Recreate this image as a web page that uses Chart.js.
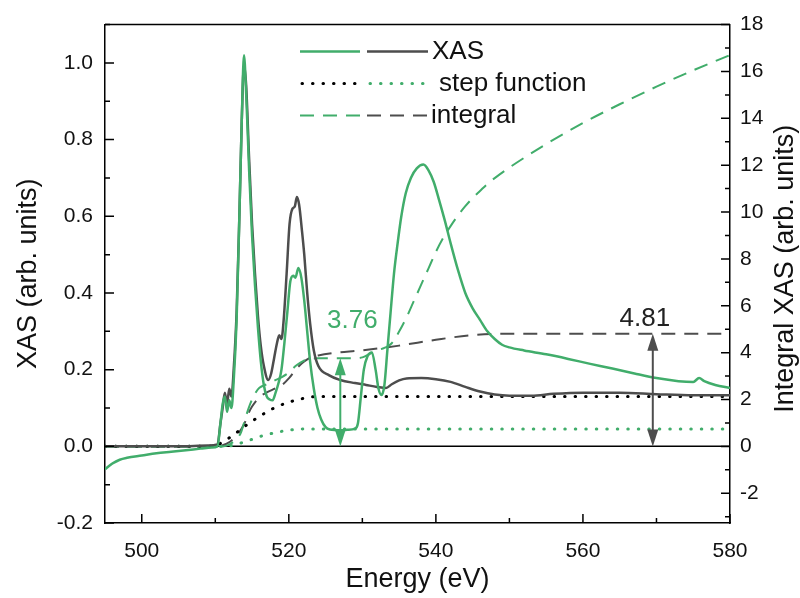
<!DOCTYPE html>
<html>
<head>
<meta charset="utf-8">
<script src="https://cdn.jsdelivr.net/npm/chart.js@4.4.1/dist/chart.umd.min.js"></script>
<style>
  html, body { margin: 0; padding: 0; background: #fff; }
</style>
</head>
<body>
<canvas id="xasChart" width="800" height="598"></canvas>
<script>
// ---- data ----
const greenE = [495, 496, 497, 498, 500, 502, 504, 506, 508, 509.5, 510.3, 510.7, 511.0, 511.3, 511.6, 511.9, 512.2, 512.5, 512.9, 513.3, 513.6, 513.9, 514.2, 514.6, 515.0, 515.4, 515.8, 516.2, 516.6, 517.0, 517.4, 517.8, 518.2, 518.6, 519.0, 519.4, 519.8, 520.2, 520.6, 520.9, 521.3, 521.7, 522.1, 522.5, 522.9, 523.4, 523.9, 524.4, 525.0, 525.6, 527, 528, 529, 529.4, 529.8, 530.2, 530.7, 531.3, 531.8, 532.2, 532.6, 533.0, 533.4, 533.8, 534.3, 534.8, 535.3, 535.9, 536.6, 537.4, 538.3, 539.0, 539.7, 540.4, 541.2, 542.0, 543.0, 544.0, 545.0, 546.0, 547.0, 548.0, 549.0, 550, 552, 555, 558, 561, 564, 567, 570, 573, 575, 575.8, 576.5, 578, 580];
const greenXas = [-0.06, -0.045, -0.035, -0.03, -0.024, -0.018, -0.014, -0.01, -0.006, -0.003, 0.0, 0.06, 0.11, 0.13, 0.09, 0.12, 0.10, 0.17, 0.33, 0.62, 0.85, 1.02, 0.92, 0.72, 0.55, 0.42, 0.31, 0.22, 0.16, 0.13, 0.122, 0.12, 0.14, 0.165, 0.2, 0.27, 0.35, 0.43, 0.445, 0.44, 0.465, 0.44, 0.38, 0.3, 0.22, 0.15, 0.1, 0.07, 0.05, 0.044, 0.042, 0.043, 0.046, 0.06, 0.13, 0.2, 0.235, 0.245, 0.2, 0.15, 0.134, 0.16, 0.25, 0.34, 0.45, 0.53, 0.6, 0.66, 0.7, 0.725, 0.735, 0.72, 0.69, 0.645, 0.59, 0.53, 0.46, 0.40, 0.36, 0.33, 0.3, 0.28, 0.265, 0.258, 0.25, 0.24, 0.228, 0.215, 0.203, 0.19, 0.178, 0.17, 0.168, 0.178, 0.17, 0.16, 0.152];

const grayE = [495, 505, 509, 510.3, 510.7, 511.0, 511.3, 511.6, 511.9, 512.2, 512.5, 512.9, 513.3, 513.6, 513.9, 514.2, 514.6, 515.0, 515.4, 515.8, 516.2, 516.6, 517.2, 517.6, 518.0, 518.4, 518.7, 519.0, 519.3, 519.7, 520.1, 520.5, 520.8, 521.1, 521.4, 521.8, 522.1, 522.5, 522.9, 523.4, 524.0, 525.5, 527, 529, 530.5, 532, 533.2, 534, 535, 536, 538, 540, 542, 544, 546, 548, 550, 553, 556, 560, 565, 570, 575, 580];
const grayXas = [0, 0, 0.002, 0.005, 0.06, 0.1, 0.14, 0.11, 0.15, 0.13, 0.2, 0.35, 0.62, 0.85, 0.995, 0.94, 0.75, 0.58, 0.45, 0.34, 0.26, 0.21, 0.173, 0.19, 0.23, 0.27, 0.29, 0.28, 0.33, 0.45, 0.58, 0.62, 0.625, 0.65, 0.63, 0.56, 0.5, 0.4, 0.32, 0.25, 0.21, 0.185, 0.173, 0.165, 0.16, 0.155, 0.152, 0.162, 0.172, 0.177, 0.178, 0.175, 0.168, 0.155, 0.143, 0.135, 0.132, 0.132, 0.137, 0.14, 0.14, 0.136, 0.133, 0.133];

const stepBlackE = [495, 509.5, 510.5, 511.5, 512.5, 514, 516, 518, 520, 522, 524, 580];
const stepBlack = [0, 0, 0.006, 0.017, 0.03, 0.052, 0.078, 0.1, 0.115, 0.125, 0.13, 0.13];

const stepGreenE = [495, 511.5, 513, 514.5, 516, 518, 520, 522, 580];
const stepGreen = [0, 0, 0.006, 0.015, 0.025, 0.035, 0.042, 0.045, 0.045];

const intGreenE = [495, 511, 512, 513, 513.5, 514, 514.5, 515, 515.5, 516, 517, 518, 519, 520, 521, 522, 523, 524, 529, 530, 531, 532, 533, 534, 535, 536, 537, 538, 539, 540, 541, 542, 543, 544, 545, 546, 547, 548, 550, 555, 560, 565, 570, 575, 580];
const intGreen = [0, 0, 0.1, 0.35, 0.6, 1.1, 1.6, 2.0, 2.3, 2.5, 2.65, 2.8, 2.95, 3.15, 3.45, 3.65, 3.74, 3.76, 3.76, 3.8, 3.95, 4.1, 4.2, 4.4, 4.9, 5.5, 6.2, 6.9, 7.6, 8.3, 8.9, 9.4, 9.85, 10.25, 10.6, 10.9, 11.2, 11.45, 11.9, 12.9, 13.8, 14.6, 15.35, 16.05, 16.7];

const intGrayE = [495, 510, 511, 512, 513, 514, 514.5, 515, 516, 517, 518, 519, 520, 521, 522, 523, 524, 526, 530, 535, 540, 545, 550, 580];
const intGray = [0, 0, 0.05, 0.2, 0.5, 1.0, 1.4, 1.7, 2.1, 2.3, 2.45, 2.6, 2.9, 3.3, 3.6, 3.8, 3.88, 3.98, 4.1, 4.3, 4.55, 4.75, 4.81, 4.81];

const xTicks = [500, 520, 540, 560, 580];
const xMinor = [510, 530, 550, 570];
const yTicks = [-0.2, 0.0, 0.2, 0.4, 0.6, 0.8, 1.0];
const yMinor = [-0.1, 0.1, 0.3, 0.5, 0.7, 0.9, 1.1];
const y2Ticks = [-2, 0, 2, 4, 6, 8, 10, 12, 14, 16, 18];
const y2Minor = [-3, -1, 1, 3, 5, 7, 9, 11, 13, 15, 17];

// annotations: energy, value on the integral axis, label
const greenMark = { e: 527, value: 3.76, label: '3.76' };
const grayMark = { e: 569.5, value: 4.81, label: '4.81' };

const GREEN = '#41ad6b';
const GRAY = '#4d4d4d';
const FONT = '"Liberation Sans", Arial, sans-serif';

const pts = (xs, ys) => xs.map((x, i) => ({ x: x, y: ys[i] }));

function drawArrow(ctx, x, y0, y1, color) {
    const head = 17, half = 5.5;
    ctx.save();
    ctx.strokeStyle = color;
    ctx.fillStyle = color;
    ctx.lineWidth = 2;
    ctx.beginPath();
    ctx.moveTo(x, y0 - head + 2);
    ctx.lineTo(x, y1 + head - 2);
    ctx.stroke();
    ctx.beginPath();
    ctx.moveTo(x, y0); ctx.lineTo(x - half, y0 - head); ctx.lineTo(x + half, y0 - head); ctx.closePath();
    ctx.fill();
    ctx.beginPath();
    ctx.moveTo(x, y1); ctx.lineTo(x - half, y1 + head); ctx.lineTo(x + half, y1 + head); ctx.closePath();
    ctx.fill();
    ctx.restore();
}

function legendLine(ctx, x0, x1, y, color, dash, width, cap) {
    ctx.save();
    ctx.strokeStyle = color;
    ctx.lineWidth = width;
    ctx.lineCap = cap;
    ctx.setLineDash(dash);
    ctx.beginPath();
    ctx.moveTo(x0, y);
    ctx.lineTo(x1, y);
    ctx.stroke();
    ctx.restore();
}

const decor = {
    id: 'decor',
    beforeDatasetsDraw(chart) {
        const { ctx, chartArea: a, scales } = chart;
        const y0 = scales.y.getPixelForValue(0);
        ctx.save();
        ctx.strokeStyle = '#000';
        ctx.lineWidth = 1.5;
        ctx.beginPath();
        ctx.moveTo(a.left, y0);
        ctx.lineTo(a.right, y0);
        ctx.stroke();
        ctx.restore();
    },
    afterDraw(chart) {
        const { ctx, chartArea: a, scales } = chart;
        const { x, y, y2 } = scales;
        ctx.save();
        ctx.strokeStyle = '#000';
        ctx.lineWidth = 1.5;
        // top frame line
        ctx.beginPath();
        ctx.moveTo(a.left, a.top);
        ctx.lineTo(a.right, a.top);
        ctx.stroke();
        // inward ticks
        ctx.beginPath();
        xTicks.forEach(v => { const p = x.getPixelForValue(v); ctx.moveTo(p, a.bottom); ctx.lineTo(p, a.bottom - 9); });
        xMinor.forEach(v => { const p = x.getPixelForValue(v); ctx.moveTo(p, a.bottom); ctx.lineTo(p, a.bottom - 5); });
        yTicks.forEach(v => { const p = y.getPixelForValue(v); ctx.moveTo(a.left, p); ctx.lineTo(a.left + 9, p); });
        yMinor.forEach(v => { const p = y.getPixelForValue(v); ctx.moveTo(a.left, p); ctx.lineTo(a.left + 5, p); });
        y2Ticks.forEach(v => { const p = y2.getPixelForValue(v); ctx.moveTo(a.right, p); ctx.lineTo(a.right - 9, p); });
        y2Minor.forEach(v => { const p = y2.getPixelForValue(v); ctx.moveTo(a.right, p); ctx.lineTo(a.right - 5, p); });
        ctx.stroke();
        ctx.restore();

        // right axis title, reading bottom to top like the left one
        ctx.save();
        ctx.font = '27px ' + FONT;
        ctx.fillStyle = '#111';
        ctx.textAlign = 'center';
        ctx.textBaseline = 'middle';
        ctx.translate(786, (a.top + a.bottom) / 2 - 5);
        ctx.rotate(-Math.PI / 2);
        ctx.fillText('Integral XAS (arb. units)', 0, 0);
        ctx.restore();

        // double arrows and their labels
        const gx = x.getPixelForValue(greenMark.e);
        drawArrow(ctx, gx, y2.getPixelForValue(0), y2.getPixelForValue(greenMark.value), GREEN);
        const kx = x.getPixelForValue(grayMark.e);
        drawArrow(ctx, kx, y2.getPixelForValue(0), y2.getPixelForValue(grayMark.value), GRAY);

        ctx.save();
        ctx.font = '26px ' + FONT;
        ctx.textAlign = 'center';
        ctx.textBaseline = 'middle';
        ctx.fillStyle = GREEN;
        ctx.fillText(greenMark.label, gx + 12, y2.getPixelForValue(greenMark.value) - 37);
        ctx.fillStyle = '#222';
        ctx.fillText(grayMark.label, kx - 8, y2.getPixelForValue(grayMark.value) - 15);
        ctx.restore();

        // legend
        const lx = a.left + 195;
        const rows = [a.top + 27, a.top + 59, a.top + 91];
        legendLine(ctx, lx, lx + 60, rows[0], GREEN, [], 2.5, 'butt');
        legendLine(ctx, lx + 67, lx + 128, rows[0], GRAY, [], 2.5, 'butt');
        legendLine(ctx, lx + 2, lx + 60, rows[1], '#000', [0.5, 10], 3, 'round');
        legendLine(ctx, lx + 70, lx + 128, rows[1], GREEN, [0.5, 10], 3, 'round');
        legendLine(ctx, lx, lx + 62, rows[2], GREEN, [14, 9], 2, 'butt');
        legendLine(ctx, lx + 67, lx + 128, rows[2], GRAY, [14, 9], 2, 'butt');
        ctx.save();
        ctx.font = '26px ' + FONT;
        ctx.fillStyle = '#111';
        ctx.textBaseline = 'middle';
        ctx.fillText('XAS', lx + 132, rows[0]);
        ctx.fillText('step function', lx + 139, rows[1]);
        ctx.fillText('integral', lx + 131, rows[2]);
        ctx.restore();
    }
};

const tickFont = { family: FONT, size: 21 };
const titleFont = { family: FONT, size: 27 };

const lineBase = { showLine: true, pointRadius: 0, cubicInterpolationMode: 'monotone' };

new Chart(document.getElementById('xasChart').getContext('2d'), {
    type: 'scatter',
    data: {
        datasets: [
            { ...lineBase, label: 'XAS green', data: pts(greenE, greenXas), yAxisID: 'y', borderColor: GREEN, borderWidth: 2.5 },
            { ...lineBase, label: 'XAS gray', data: pts(grayE, grayXas), yAxisID: 'y', borderColor: GRAY, borderWidth: 2.5 },
            { ...lineBase, label: 'step black', data: pts(stepBlackE, stepBlack), yAxisID: 'y', borderColor: '#000', borderWidth: 3, borderDash: [0.5, 10], borderCapStyle: 'round' },
            { ...lineBase, label: 'step green', data: pts(stepGreenE, stepGreen), yAxisID: 'y', borderColor: GREEN, borderWidth: 3, borderDash: [0.5, 10], borderCapStyle: 'round' },
            { ...lineBase, label: 'integral green', data: pts(intGreenE, intGreen), yAxisID: 'y2', borderColor: GREEN, borderWidth: 2, borderDash: [14, 9] },
            { ...lineBase, label: 'integral gray', data: pts(intGrayE, intGray), yAxisID: 'y2', borderColor: GRAY, borderWidth: 2, borderDash: [14, 9] }
        ]
    },
    options: {
        responsive: false,
        animation: false,
        layout: { padding: { top: 20, left: 0, right: 0, bottom: 0 } },
        plugins: { legend: { display: false }, tooltip: { enabled: false } },
        scales: {
            x: {
                type: 'linear', min: 495, max: 580,
                afterBuildTicks: s => { s.ticks = xTicks.map(v => ({ value: v })); },
                afterFit: s => { s.height = 75; },
                grid: { display: false, drawTicks: false },
                border: { display: true, color: '#000', width: 1.5 },
                ticks: { font: tickFont, color: '#111', padding: 16, maxRotation: 0 },
                title: { display: true, text: 'Energy (eV)', font: titleFont, color: '#111', padding: { top: 2, bottom: 2 } }
            },
            y: {
                type: 'linear', position: 'left', min: -0.2, max: 1.1,
                afterBuildTicks: s => { s.ticks = yTicks.map(v => ({ value: v })); },
                afterFit: s => { s.width = 105; },
                grid: { display: false, drawTicks: false },
                border: { display: true, color: '#000', width: 1.5 },
                ticks: { font: tickFont, color: '#111', padding: 12, callback: v => v.toFixed(1) },
                title: { display: true, text: 'XAS (arb. units)', font: titleFont, color: '#111', padding: { top: 12, bottom: 0 } }
            },
            y2: {
                type: 'linear', position: 'right', min: -3.27, max: 18,
                afterBuildTicks: s => { s.ticks = y2Ticks.map(v => ({ value: v })); },
                afterFit: s => { s.width = 70; },
                grid: { display: false, drawTicks: false },
                border: { display: true, color: '#000', width: 1.5 },
                ticks: { font: tickFont, color: '#111', padding: 10 },
                title: { display: false }
            }
        }
    },
    plugins: [decor]
});
</script>
</body>
</html>
